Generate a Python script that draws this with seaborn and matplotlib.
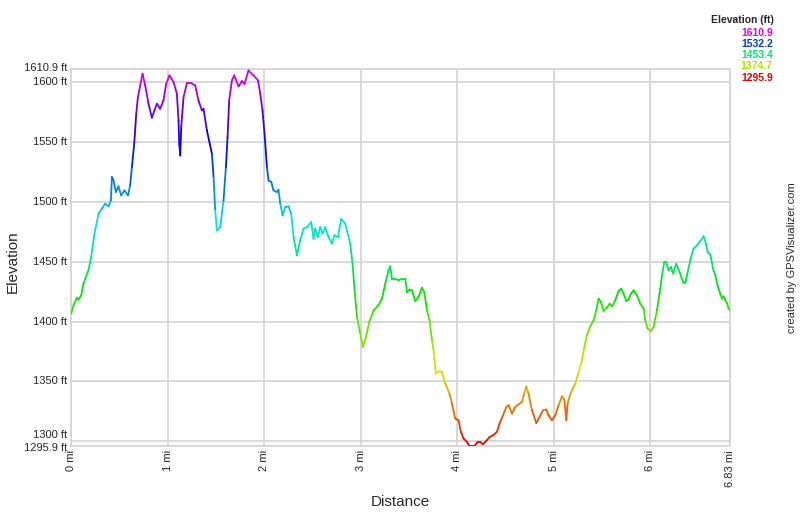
#!/usr/bin/env python
# -*- coding: utf-8 -*-
"""Elevation profile of a track, line coloured by elevation.

"""
import numpy as np
import matplotlib.pyplot as plt
from matplotlib.collections import LineCollection
from matplotlib.colors import ListedColormap, Normalize
import seaborn as sns

distance_mi = [
    0.000, 0.024, 0.059, 0.076, 0.104, 0.127, 0.179, 0.207, 0.241, 0.283,
    0.318, 0.352, 0.387, 0.411, 0.422, 0.438, 0.463, 0.490, 0.518, 0.552,
    0.588, 0.611, 0.629, 0.653, 0.674, 0.691, 0.715, 0.739, 0.767, 0.801,
    0.836, 0.863, 0.888, 0.922, 0.956, 0.984, 1.019, 1.060, 1.095, 1.112,
    1.119, 1.130, 1.140, 1.164, 1.199, 1.244, 1.285, 1.319, 1.354, 1.371,
    1.406, 1.458, 1.475, 1.492, 1.510, 1.544, 1.578, 1.603, 1.620, 1.637,
    1.665, 1.689, 1.734, 1.769, 1.796, 1.837, 1.889, 1.935, 1.959, 1.982,
    2.003, 2.028, 2.045, 2.073, 2.096, 2.132, 2.148, 2.166, 2.190, 2.218,
    2.252, 2.280, 2.304, 2.339, 2.373, 2.407, 2.443, 2.487, 2.511, 2.528,
    2.556, 2.580, 2.604, 2.632, 2.666, 2.702, 2.728, 2.764, 2.798, 2.839,
    2.891, 2.915, 2.936, 2.961, 2.995, 3.023, 3.054, 3.088, 3.133, 3.184,
    3.220, 3.254, 3.288, 3.306, 3.323, 3.358, 3.392, 3.427, 3.461, 3.479,
    3.506, 3.531, 3.565, 3.599, 3.634, 3.658, 3.686, 3.713, 3.738, 3.754,
    3.779, 3.806, 3.841, 3.876, 3.920, 3.945, 3.979, 4.013, 4.038, 4.065,
    4.101, 4.127, 4.176, 4.210, 4.238, 4.266, 4.301, 4.335, 4.370, 4.411,
    4.438, 4.474, 4.508, 4.532, 4.567, 4.601, 4.635, 4.670, 4.694, 4.715,
    4.739, 4.774, 4.819, 4.853, 4.888, 4.922, 4.946, 4.981, 5.016, 5.050,
    5.085, 5.109, 5.130, 5.143, 5.171, 5.205, 5.223, 5.257, 5.292, 5.316,
    5.344, 5.378, 5.412, 5.440, 5.464, 5.489, 5.516, 5.551, 5.578, 5.603,
    5.637, 5.671, 5.699, 5.723, 5.751, 5.775, 5.800, 5.827, 5.862, 5.896,
    5.931, 5.948, 5.972, 6.007, 6.034, 6.069, 6.096, 6.121, 6.145, 6.166,
    6.190, 6.215, 6.235, 6.269, 6.304, 6.339, 6.363, 6.387, 6.422, 6.449,
    6.484, 6.518, 6.552, 6.577, 6.594, 6.622, 6.650, 6.674, 6.697, 6.725,
    6.743, 6.760, 6.777, 6.795, 6.811, 6.830,
]

elevation_ft = [
    1406.7, 1413.6, 1420.0, 1418.4, 1422.0, 1431.7, 1442.9, 1454.0, 1473.5, 1490.2,
    1494.4, 1498.6, 1496.3, 1501.3, 1520.8, 1518.0, 1508.3, 1513.0, 1505.5, 1509.7,
    1505.5, 1513.9, 1529.2, 1548.7, 1573.8, 1587.6, 1597.4, 1607.2, 1597.4, 1582.1,
    1570.4, 1576.5, 1582.1, 1577.9, 1584.9, 1598.8, 1605.8, 1600.2, 1590.5, 1568.2,
    1548.7, 1538.9, 1562.6, 1587.6, 1599.3, 1599.3, 1597.4, 1584.9, 1576.5, 1577.9,
    1559.8, 1540.3, 1520.8, 1493.0, 1476.3, 1479.0, 1501.3, 1529.2, 1554.2, 1584.9,
    1601.6, 1605.8, 1596.6, 1601.0, 1598.8, 1609.9, 1605.8, 1601.6, 1590.5, 1576.5,
    1557.1, 1529.2, 1518.0, 1516.6, 1509.7, 1508.3, 1510.3, 1498.6, 1488.8, 1495.7,
    1496.3, 1490.2, 1470.7, 1455.4, 1467.9, 1477.7, 1479.0, 1483.2, 1469.3, 1477.7,
    1470.7, 1479.0, 1473.5, 1479.0, 1470.7, 1465.2, 1472.1, 1470.7, 1486.0, 1481.9,
    1465.2, 1448.4, 1426.1, 1403.8, 1390.0, 1378.8, 1387.1, 1399.7, 1409.4, 1413.6,
    1419.2, 1431.7, 1442.9, 1446.2, 1435.9, 1435.9, 1434.5, 1435.9, 1435.9, 1424.7,
    1426.7, 1426.1, 1417.2, 1420.5, 1428.4, 1424.7, 1409.4, 1401.1, 1384.4, 1376.0,
    1356.6, 1358.7, 1357.9, 1348.2, 1339.8, 1331.5, 1319.0, 1317.5, 1307.8, 1302.3,
    1299.4, 1295.9, 1295.9, 1299.4, 1299.4, 1297.5, 1300.3, 1303.6, 1305.0, 1307.8,
    1314.8, 1321.7, 1328.7, 1330.1, 1323.1, 1328.7, 1330.9, 1332.8, 1339.8, 1345.9,
    1339.8, 1325.9, 1315.3, 1320.3, 1325.9, 1326.5, 1321.7, 1317.5, 1321.7, 1330.1,
    1337.6, 1334.8, 1317.5, 1331.5, 1339.3, 1345.4, 1348.2, 1357.9, 1367.7, 1378.8,
    1388.6, 1396.1, 1401.1, 1409.4, 1419.2, 1416.4, 1408.9, 1411.7, 1415.0, 1412.8,
    1417.8, 1425.6, 1427.6, 1423.4, 1417.2, 1418.4, 1423.4, 1426.1, 1422.0, 1415.0,
    1410.9, 1401.1, 1394.1, 1392.1, 1395.5, 1409.4, 1423.4, 1438.7, 1449.8, 1449.8,
    1442.9, 1445.6, 1440.1, 1448.4, 1441.4, 1433.1, 1432.2, 1441.4, 1454.0, 1461.0,
    1463.7, 1467.3, 1471.3, 1465.2, 1458.1, 1456.2, 1444.3, 1438.7, 1430.3, 1423.4,
    1419.2, 1421.1, 1417.8, 1415.5, 1410.9, 1409.4,
]

elev_min, elev_max = 1295.9, 1610.9
total_mi = 6.83
y_gridlines = [1300, 1350, 1400, 1450, 1500, 1550, 1600]
x_gridlines = [0, 1, 2, 3, 4, 5, 6]
legend_values = [1610.9, 1532.2, 1453.4, 1374.7, 1295.9]


def plot_profile():
    """Plot the elevation profile.

    """
    sns.set_style('white')
    plt.rcParams['font.family'] = ['Liberation Sans', 'DejaVu Sans']

    # red -> magenta part of the hue circle
    hues = sns.hls_palette(360, h=0, l=0.45, s=1)[:301]
    cmap = ListedColormap(hues)
    norm = Normalize(elev_min, elev_max)

    fig = plt.figure(figsize=(8, 5.17), dpi=100)
    ax = fig.add_axes([0.089, 0.137, 0.824, 0.729])

    x = np.asarray(distance_mi)
    y = np.asarray(elevation_ft)
    pts = np.column_stack([x, y]).reshape(-1, 1, 2)
    segs = np.concatenate([pts[:-1], pts[1:]], axis=1)
    lc = LineCollection(segs, cmap=cmap, norm=norm, linewidth=1.3,
                        capstyle='round', joinstyle='round', zorder=3)
    lc.set_array((y[:-1] + y[1:]) / 2)
    ax.add_collection(lc)

    ax.set_xlim(0, total_mi)
    ax.set_ylim(elev_min, elev_max)

    # gridlines at every tick, labels written by hand so the crowded
    # ones at both ends can be nudged apart
    yticks = [elev_min] + y_gridlines + [elev_max]
    ax.set_yticks(yticks)
    ax.set_yticklabels([])
    nudge = {1300: 4.5, elev_min: -1, elev_max: 1}
    for v in yticks:
        ax.annotate('%g ft' % v, xy=(0, v), xycoords=('axes fraction', 'data'),
                    xytext=(-3, nudge.get(v, 0)), textcoords='offset points',
                    ha='right', va='center', fontsize=8)

    xticks = x_gridlines + [total_mi]
    ax.set_xticks(xticks)
    ax.set_xticklabels(['%g mi' % v for v in xticks], rotation=90, fontsize=8)
    ax.tick_params(length=0, pad=3)

    ax.grid(True, color='#d6d6d6', linewidth=1.3, zorder=0)
    for s in ax.spines.values():
        s.set_color('#d6d6d6')
        s.set_linewidth(1.3)

    fig.text(0.5, 1 - 502 / 517, 'Distance', fontsize=11,
             ha='center', va='center')
    fig.text(13 / 800, 1 - 262 / 517, 'Elevation', fontsize=11,
             rotation=90, ha='center', va='center')

    fig.text(0.9675, 0.962, 'Elevation (ft)', fontsize=7.5, fontweight='bold',
             ha='right', va='center')
    for i, v in enumerate(legend_values):
        fig.text(0.966, 0.936 - i * 0.0215, '%.1f' % v, fontsize=7.5,
                 fontweight='bold', color=cmap(norm(v)), ha='right', va='center')

    fig.text(0.99, 1 - 258 / 517, 'created by GPSVisualizer.com', rotation=90,
             fontsize=8, ha='center', va='center')

    fig.savefig('out.png', dpi=100)


if __name__ == '__main__':
    plot_profile()
